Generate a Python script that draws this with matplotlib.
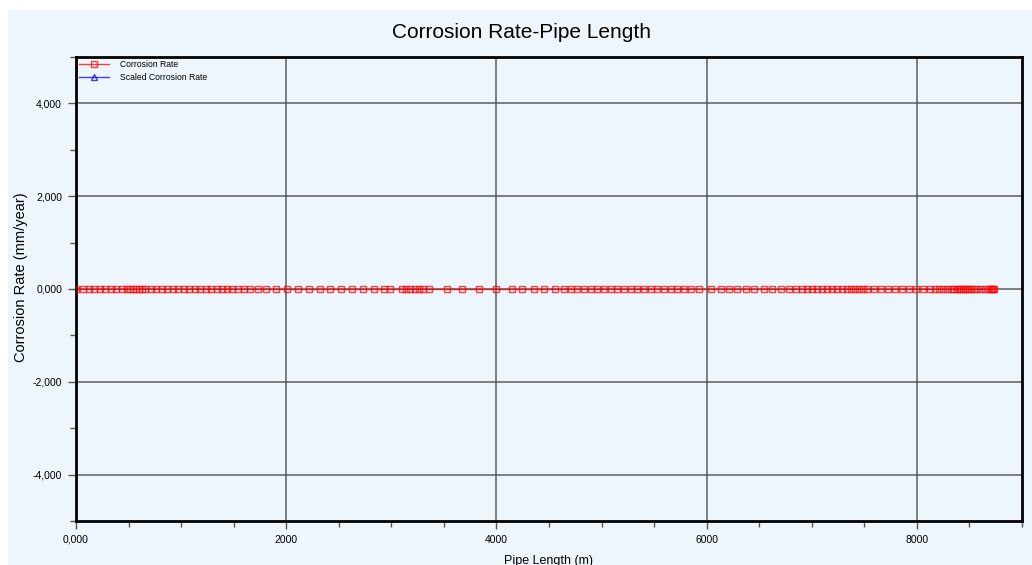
import numpy as np
import matplotlib.pyplot as plt
from matplotlib.ticker import FixedLocator, MultipleLocator
from matplotlib.patches import Rectangle

# --- data ---
pipe_length = [
    0, 67, 124, 171, 228, 276, 333, 380, 437, 485, 513, 542, 570, 599, 627, 656,
    713, 760, 817, 865, 922, 969, 1026, 1074, 1131, 1178, 1235, 1283, 1340, 1387,
    1435, 1482, 1539, 1596, 1653, 1729, 1805, 1900, 2005, 2109, 2214, 2318, 2413,
    2518, 2622, 2727, 2831, 2926, 2983, 3097, 3135, 3173, 3221, 3259, 3297, 3363,
    3525, 3677, 3838, 4000, 4152, 4247, 4361, 4456, 4561, 4646, 4713, 4770, 4836,
    4903, 4960, 5026, 5093, 5150, 5216, 5283, 5340, 5406, 5473, 5530, 5596, 5663,
    5720, 5786, 5853, 5929, 6043, 6138, 6214, 6290, 6375, 6451, 6546, 6622, 6708,
    6784, 6850, 6907, 6955, 7002, 7050, 7097, 7145, 7192, 7240, 7287, 7335, 7373,
    7411, 7449, 7487, 7525, 7591, 7658, 7724, 7791, 7857, 7924, 7990, 8057, 8123,
    8171, 8209, 8247, 8285, 8323, 8351, 8380, 8399, 8418, 8437, 8456, 8475, 8494,
    8513, 8541, 8570, 8608, 8646, 8684, 8703, 8712, 8722, 8731,
]
corrosion_rate = [0.0] * len(pipe_length)   # all values sit on the zero line
scaled_length = []
scaled_rate = []

x_ticks = [0, 2000, 4000, 6000, 8000]
x_tick_labels = ["0,000", "2000", "4000", "6000", "8000"]
y_ticks = [-4000, -2000, 0, 2000, 4000]
y_tick_labels = ["-4,000", "-2,000", "0,000", "2,000", "4,000"]

bg = "#eef6fd"
plt.rcParams["font.family"] = ["Liberation Sans", "DejaVu Sans"]

fig = plt.figure(figsize=(10.32, 5.65), dpi=100)
fig.patch.set_facecolor("white")
fig.patches.append(Rectangle((8 / 1032, 0), 1, 1 - 10 / 565, transform=fig.transFigure,
                             facecolor=bg, edgecolor="none", zorder=-10))

ax = fig.add_axes([76 / 1032, 1 - 521 / 565, 946 / 1032, 464 / 565])
ax.set_facecolor(bg)

ax.plot(pipe_length, corrosion_rate, color="red", lw=1, alpha=0.75,
        marker="s", ms=5, mfc="none", mec=(1, 0, 0, 0.6), mew=1,
        label="Corrosion Rate", zorder=3)
ax.plot(scaled_length, scaled_rate, color="blue", lw=1, alpha=0.75,
        marker="^", ms=5, mfc="none", mec="blue", mew=1,
        label="Scaled Corrosion Rate", zorder=3)

ax.set_xlim(0, 9000)
ax.set_ylim(-5000, 5000)
ax.xaxis.set_major_locator(FixedLocator(x_ticks))
ax.set_xticklabels(x_tick_labels)
ax.xaxis.set_minor_locator(MultipleLocator(500))
ax.yaxis.set_major_locator(FixedLocator(y_ticks))
ax.set_yticklabels(y_tick_labels)
ax.yaxis.set_minor_locator(MultipleLocator(1000))

ax.grid(True, which="major", color="#444444", lw=1.1, alpha=0.85, zorder=1)
ax.set_axisbelow(True)
ax.tick_params(which="both", direction="out", color="#555555", labelsize=7.5,
               labelcolor="black")
ax.tick_params(which="major", length=6, width=1, pad=4)
ax.tick_params(which="minor", length=4, width=1)
for s in ax.spines.values():
    s.set_linewidth(2)
    s.set_color("black")

fig.text(521 / 1032, 1 - 33 / 565, "Corrosion Rate-Pipe Length", fontsize=15,
         ha="center", va="center")
ax.set_xlabel("Pipe Length (m)", fontsize=9, labelpad=7)
ax.set_ylabel("Corrosion Rate (mm/year)", fontsize=10.5)
ax.yaxis.set_label_coords(-0.0507, 0.526)

ax.legend(loc="upper left", frameon=False, fontsize=6.2, handlelength=3.5,
          borderaxespad=0.05, labelspacing=0.55, borderpad=0.25, handletextpad=1.3)

fig.savefig("out.png", dpi=100, facecolor=fig.get_facecolor())
